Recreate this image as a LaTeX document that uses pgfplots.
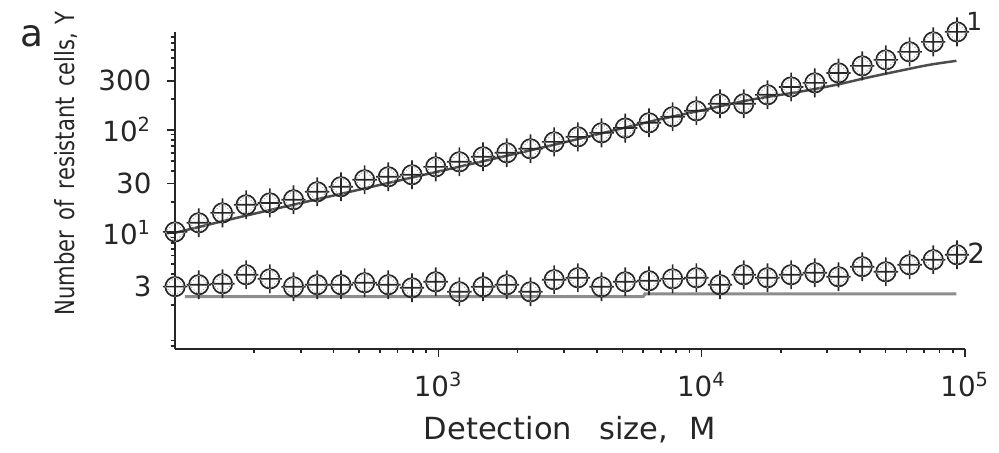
\documentclass[border=0pt]{standalone}
\usepackage{pgfplots}
\pgfplotsset{compat=1.18}
\usepackage{fontspec}
\setmainfont{DejaVu Sans}
\usepackage{graphicx}

% circle with a dotted inscribed diamond and a cross through it
\pgfdeclareplotmark{cellmark}{%
  \pgfpathcircle{\pgfpointorigin}{3.5pt}%
  \pgfpathmoveto{\pgfqpoint{0pt}{-5.2pt}}\pgfpathlineto{\pgfqpoint{0pt}{5.2pt}}%
  \pgfpathmoveto{\pgfqpoint{-4.4pt}{0pt}}\pgfpathlineto{\pgfqpoint{4.4pt}{0pt}}%
  \pgfusepathqstroke
  \begin{pgfscope}
    \pgfsetstrokecolor{black!35}%
    \pgfsetlinewidth{0.3pt}%
    \pgfsetdash{{0.5pt}{0.7pt}}{0pt}%
    \pgfpathmoveto{\pgfqpoint{0pt}{3.5pt}}%
    \pgfpathlineto{\pgfqpoint{3.5pt}{0pt}}%
    \pgfpathlineto{\pgfqpoint{0pt}{-3.5pt}}%
    \pgfpathlineto{\pgfqpoint{-3.5pt}{0pt}}%
    \pgfpathclose
    \pgfusepathqstroke
  \end{pgfscope}
}

\begin{document}
\begin{tikzpicture}
\begin{axis}[
  name=ax,
  xmode=log, ymode=log,
  scale only axis,
  width=284.7pt, height=114.2pt,
  xmin=100, xmax=100000,
  ymin=0.748, ymax=894,
  axis lines=left,
  axis line style={-, line width=0.8pt, black!85},
  tick align=outside,
  major tick length=3pt,
  minor tick length=1.6pt,
  tick style={black!85, line width=0.6pt},
  xtick={1000,10000,100000},
  xticklabels={10\textsuperscript{3},10\textsuperscript{4},10\textsuperscript{5}},
  minor xtick={200,300,400,500,600,700,800,900,2000,3000,4000,5000,6000,7000,8000,9000,20000,30000,40000,50000,60000,70000,80000,90000},
  ytick={3,10,30,100,300},
  yticklabels={3,10\textsuperscript{1},30,10\textsuperscript{2},300},
  minor ytick={0.8,0.9,2,4,5,6,7,8,9,20,40,50,60,70,80,90,200,400,500,600,700,800},
  tick label style={font=\fontsize{10}{12}\selectfont, text=black!85},
  xticklabel style={yshift=-2pt},
  yticklabel style={xshift=-2pt},
  xlabel={Detection\hspace{0.9em}size,\hspace{0.7em}M},
  xlabel style={font=\fontsize{11}{13}\selectfont, text=black!85, at={(axis description cs:0.5,-0.255)}, anchor=center},
  ylabel={\scalebox{0.8}[1]{Number\hspace{0.5em}of\hspace{0.5em}resistant\hspace{0.5em}cells,\hspace{0.4em}Y}},
  ylabel style={font=\fontsize{9.5}{11}\selectfont, text=black!85, at={(axis description cs:-0.138,0.585)}, anchor=center, rotate=0},
  clip=false,
]

% fitted curves
\addplot[black!70, line width=0.9pt, smooth] coordinates {
  (100,10.0) (193,15.0) (461,25.0) (1107,41.8) (2650,70.0) (6350,120)
  (9820,153) (15200,195) (23500,234) (32500,274) (42300,320)
  (56400,374) (73300,428) (92900,468)
};
\addplot[black!45, line width=1.1pt] coordinates {
  (109,2.40) (6000,2.40) (6100,2.55) (92900,2.55)
};

% series 1
\addplot[only marks, mark=cellmark, draw=black!85, fill=none, line width=0.6pt] coordinates {
  (100,10.2) (123.0,12.5) (151.4,15.6) (186.2,18.7) (229.1,19.5) (281.8,20.9)
  (346.7,25.0) (426.6,28.0) (524.8,32.7) (645.7,35.0) (794.3,36.6) (977.2,43.7)
  (1202,48.9) (1479,54.7) (1820,59.8) (2239,65.4) (2754,76.4) (3388,85.5)
  (4169,93.5) (5129,104) (6310,117) (7762,134) (9550,153) (11749,179)
  (14454,179) (17783,219) (21878,261) (26915,286) (33113,357) (40738,418)
  (50119,478) (61660,572) (75858,715) (93325,894)
};

% series 2
\addplot[only marks, mark=cellmark, draw=black!85, fill=none, line width=0.6pt] coordinates {
  (100,3.00) (123.0,3.13) (151.4,3.20) (186.2,3.91) (229.1,3.57) (281.8,2.99)
  (346.7,3.13) (426.6,3.13) (524.8,3.27) (645.7,3.13) (794.3,2.92) (977.2,3.34)
  (1202,2.67) (1479,2.99) (1820,3.13) (2239,2.67) (2754,3.50) (3388,3.66)
  (4169,2.99) (5129,3.34) (6310,3.42) (7762,3.57) (9550,3.66) (11749,3.13)
  (14454,3.91) (17783,3.66) (21878,3.91) (26915,4.09) (33113,3.74) (40738,4.68)
  (50119,4.18) (61660,4.89) (75858,5.47) (93325,6.11)
};

\node[font=\fontsize{9}{10}\selectfont, text=black!85] at (axis cs:108600,1120) {1};
\node[font=\fontsize{10}{11}\selectfont, text=black!85, anchor=west, inner sep=0.5pt] at (axis cs:100500,6.3) {2};
\node[font=\fontsize{13.5}{14}\selectfont, text=black!85] at (axis description cs:-0.181,0.985) {a};
\end{axis}
\path ([shift={(-63.1pt,-35.7pt)}]ax.south west) rectangle ([shift={(12.3pt,11.5pt)}]ax.north east);
\end{tikzpicture}
\end{document}
